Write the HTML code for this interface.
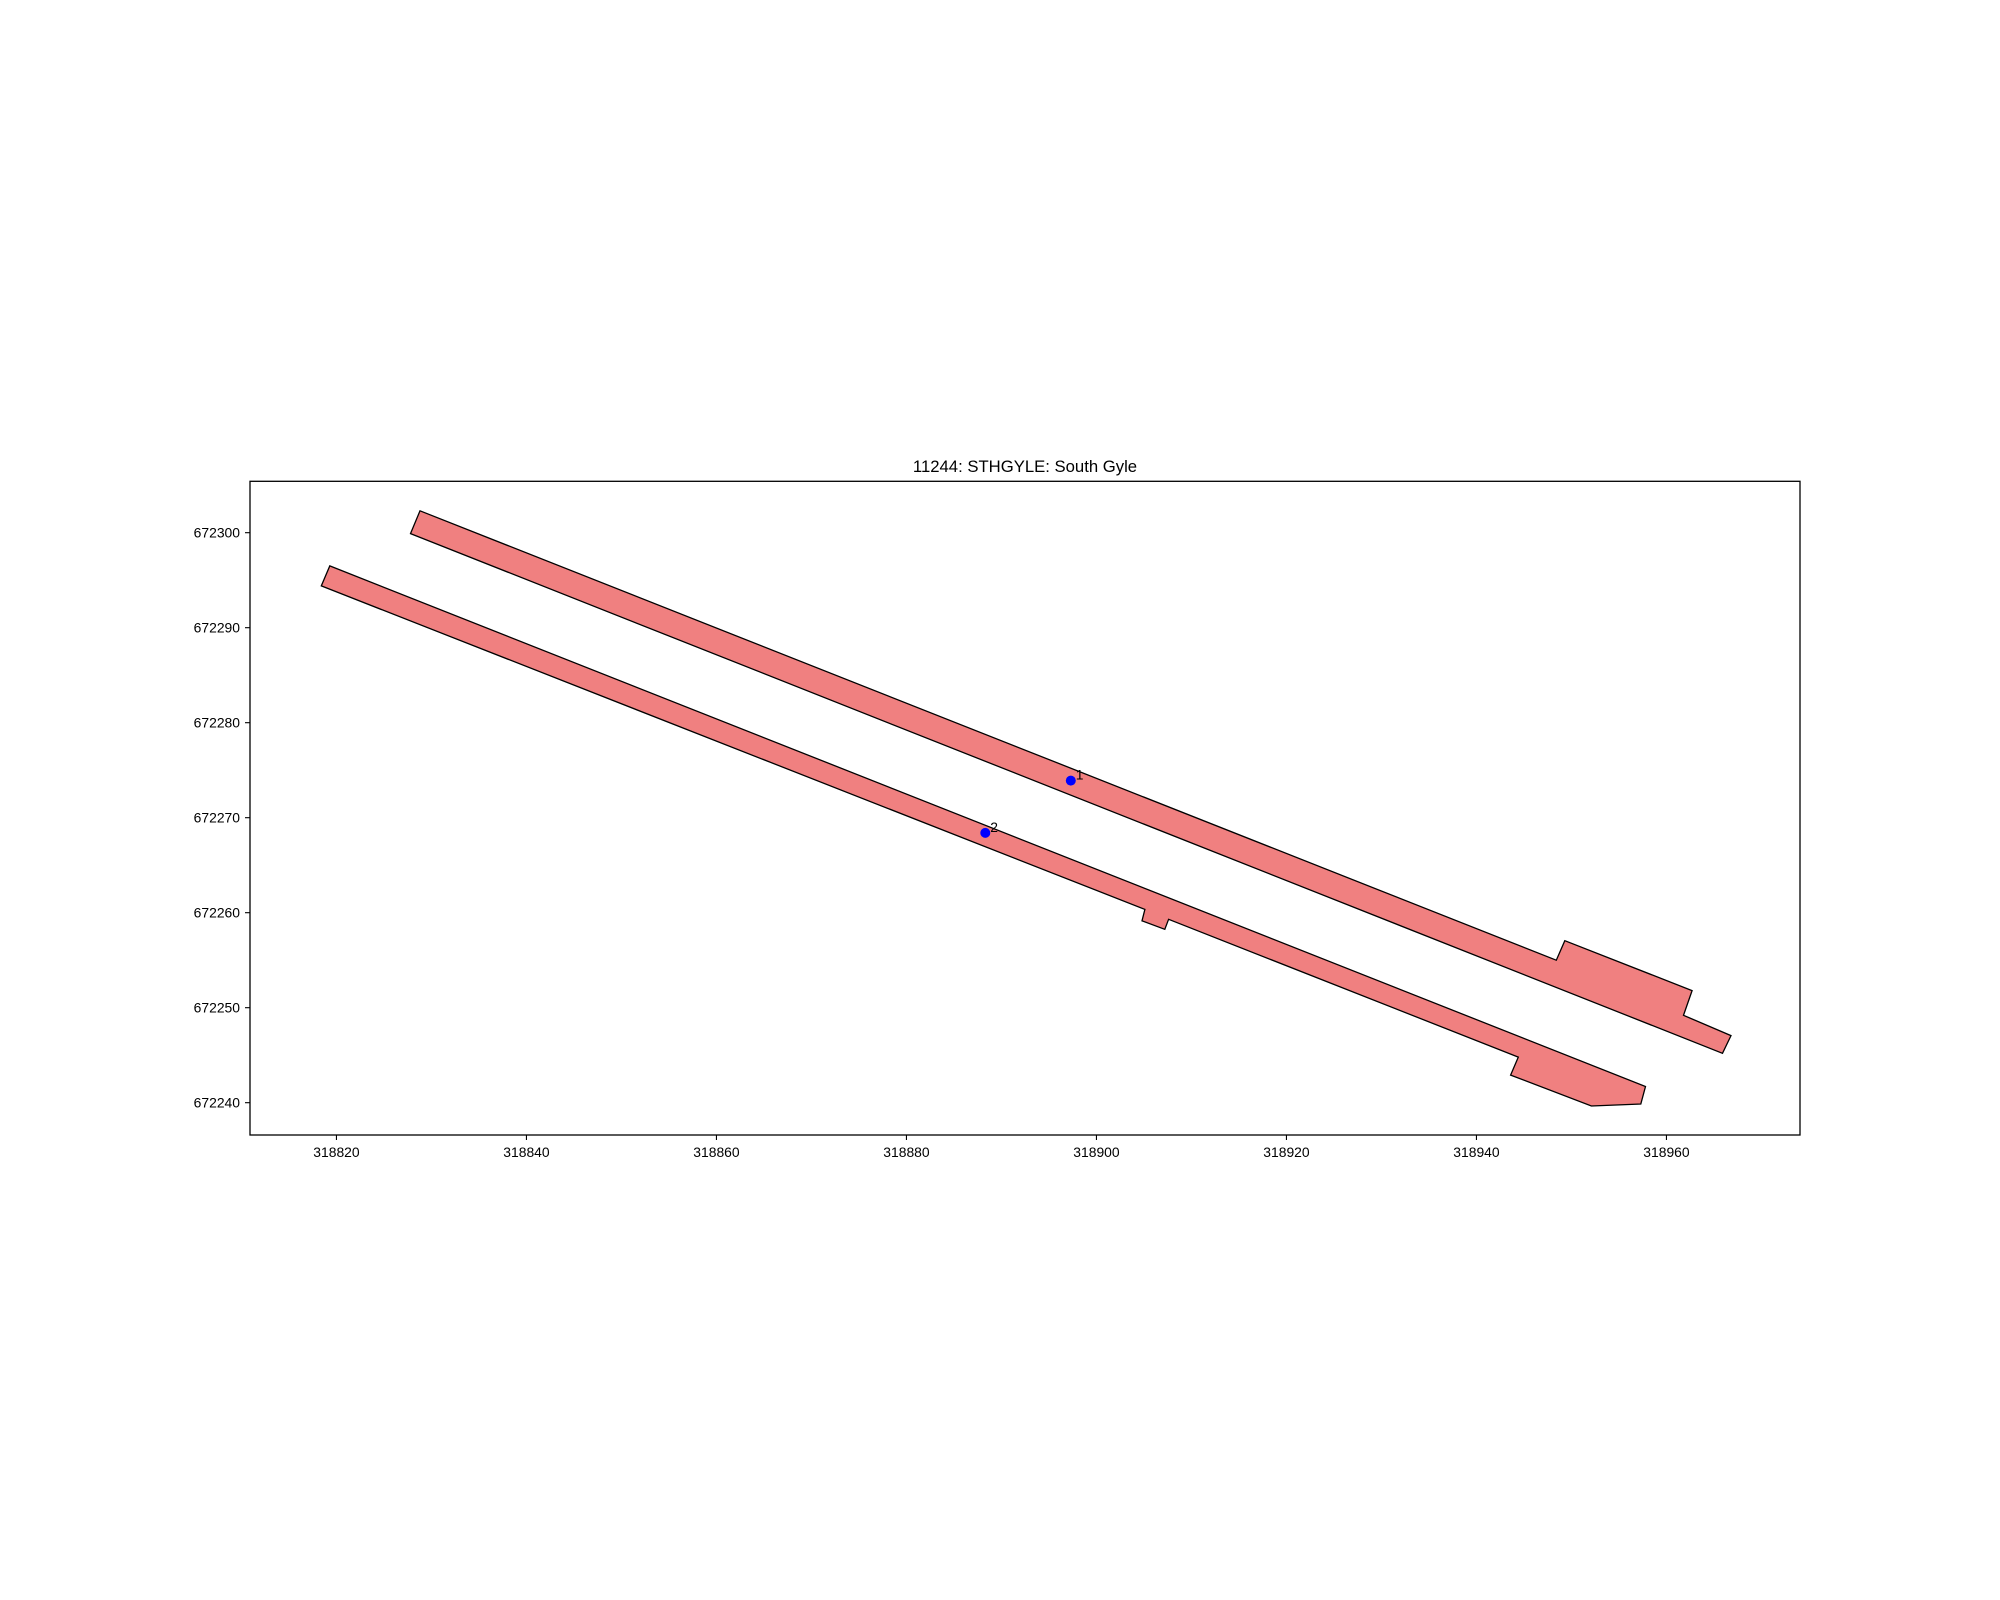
<!DOCTYPE html>
<html><head><meta charset="utf-8"><style>
html,body{margin:0;padding:0;background:#fff;}
svg{display:block;font-family:"Liberation Sans","DejaVu Sans",sans-serif;}
</style></head><body>
<svg id="chart" width="2000" height="1600" viewBox="0 0 2000 1600">
<rect width="2000" height="1600" fill="#fff"/>
<text x="1025" y="472" font-size="16.7" text-anchor="middle">11244: STHGYLE: South Gyle</text>
<g id="polys"></g>
<g id="pts"></g>
<rect x="250" y="481.3" width="1550" height="653.7" fill="none" stroke="#000" stroke-width="1.3"/>
<g id="xt"></g><g id="yt"></g>
</svg>
<script>
const xTicks=[318820,318840,318860,318880,318900,318920,318940,318960];
const yTicks=[672240,672250,672260,672270,672280,672290,672300];
const upperPoly=[[318828.8,672302.3],[318948.4,672255.0],[318949.3,672257.05],[318962.7,672251.8],[318961.8,672249.2],[318966.8,672247.06],[318965.9,672245.2],[318827.8,672299.9]];
const lowerPoly=[[318819.3,672296.5],[318957.8,672241.7],[318957.3,672239.86],[318952.1,672239.65],[318943.6,672242.9],[318944.4,672244.8],[318907.6,672259.3],[318907.2,672258.25],[318904.8,672259.15],[318905.1,672260.35],[318818.4,672294.4]];
const pointLabels=["1","2"];
const pointX=[318897.3,318888.3];
const pointY=[672273.9,672268.4];
const XMIN=318810.9,YMAX=672305.41,S=9.5;
function sx(v){return 250+(v-XMIN)*S;}
function sy(v){return 481.3+(YMAX-v)*S;}
const NS="http://www.w3.org/2000/svg";
function mk(t,a,p){const e=document.createElementNS(NS,t);for(const k in a)e.setAttribute(k,a[k]);p.appendChild(e);return e;}
const P=document.getElementById('polys');
[upperPoly,lowerPoly].forEach((poly,i)=>{
 const e=mk('polygon',{points:poly.map(p=>sx(p[0]).toFixed(1)+','+sy(p[1]).toFixed(1)).join(' '),fill:'#f08080',stroke:'#000','stroke-width':1.3},P);
 
 
});
const Q=document.getElementById('pts');
pointX.forEach((x,i)=>{
 const c=mk('circle',{cx:sx(x),cy:sy(pointY[i]),r:5,fill:'#0000ff'},Q);
 
 
 const t=mk('text',{x:sx(x)+5,y:sy(pointY[i])-1,'font-size':13.9},Q);
 t.textContent=pointLabels[i];
 
 
});
const XT=document.getElementById('xt');
xTicks.forEach(v=>{
 const x=sx(v);
 mk('line',{x1:x,x2:x,y1:1135,y2:1140,stroke:'#000','stroke-width':1.1},XT);
 const t=mk('text',{x:x,y:1157,'font-size':13.9,'text-anchor':'middle'},XT);
 t.textContent=v;
 
 
});
const YT=document.getElementById('yt');
yTicks.forEach(v=>{
 const y=sy(v);
 mk('line',{x1:245,x2:250,y1:y,y2:y,stroke:'#000','stroke-width':1.1},YT);
 const t=mk('text',{x:240,y:y+5,'font-size':13.9,'text-anchor':'end'},YT);
 t.textContent=v;
 
 
});
</script>
</body></html>
